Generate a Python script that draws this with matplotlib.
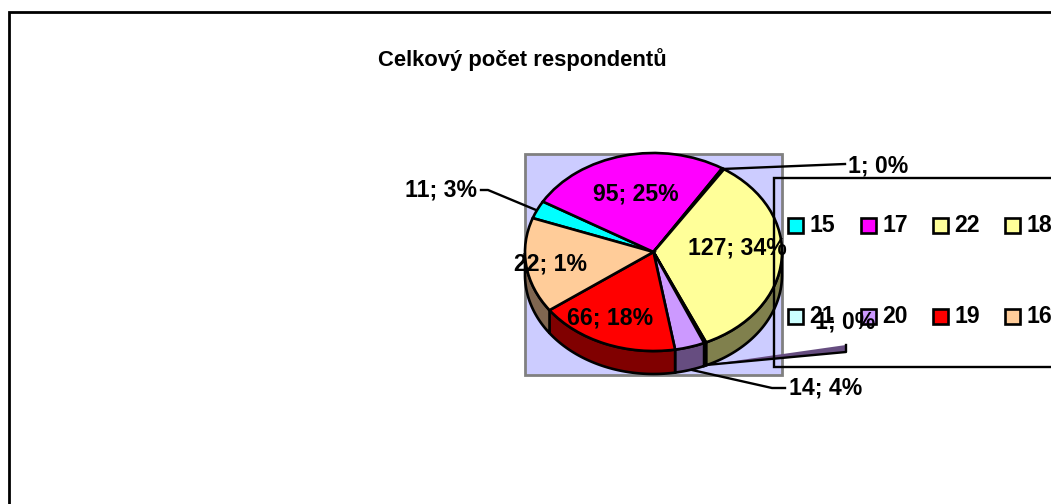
import numpy as np
import matplotlib
matplotlib.use("Agg")
import matplotlib.pyplot as plt
from matplotlib.patches import Rectangle, Polygon

plt.rcParams['font.family'] = ['Liberation Sans', 'DejaVu Sans']

# slices in drawing order, clockwise
categories = ['15', '17', '22', '18', '21', '20', '19', '16']
values = [11, 95, 1, 127, 1, 14, 66, 58]
colors = ['#00FFFF', '#FF00FF', '#FFFF99', '#FFFF99', '#CCFFFF', '#CC99FF', '#FF0000', '#FFCC99']
wall_colors = ['#008080', '#800080', '#80804D', '#80804D', '#668080', '#664D80', '#800000', '#806650']
title = 'Celkový počet respondentů'

W, H = 1051, 504
fig = plt.figure(figsize=(W / 100, H / 100), dpi=100)

# pixel coordinate axes, background
bg = fig.add_axes([0, 0, 1, 1], zorder=1)
bg.set_xlim(0, W)
bg.set_ylim(H, 0)
bg.axis('off')
bg.add_patch(Rectangle((525, 154), 257, 221, fc='#CCCCFF', ec='#808080', lw=2))

# pie axes, stretched to an ellipse
cx, cy, a, b = 653.5, 252, 128.5, 99
depth = 23 / b
pie_ax = fig.add_axes([(cx - a) / W, 1 - (cy + b) / H, 2 * a / W, 2 * b / H], zorder=2)
start = 160

# side wall of the pie, front half only
fracs = np.array(values) / sum(values) * 360
ends = start - np.cumsum(fracs)
starts = ends + fracs
for th1, th2, c in zip(starts, ends, wall_colors):
    t = np.radians(np.linspace(th1, th2, 80)) % (2 * np.pi)
    t = t[t >= np.pi]
    if len(t) < 2:
        continue
    xs = np.cos(t)
    ys = np.sin(t)
    pts = np.column_stack([np.r_[xs, xs[::-1]], np.r_[ys, ys[::-1] - depth]])
    pie_ax.add_patch(Polygon(pts, fc=c, ec='black', lw=1.9, clip_on=False, zorder=0))

wedges, _ = pie_ax.pie(values, colors=colors, startangle=start, counterclock=False,
                       wedgeprops={'edgecolor': 'black', 'linewidth': 1.9, 'clip_on': False})
for w in wedges:
    w.set_zorder(1)
pie_ax.set_aspect('auto')
pie_ax.set_xlim(-1, 1)
pie_ax.set_ylim(-1, 1)
pie_ax.axis('off')

# overlay for frames, legend and labels
top = fig.add_axes([0, 0, 1, 1], zorder=3)
top.set_xlim(0, W)
top.set_ylim(H, 0)
top.axis('off')
top.patch.set_alpha(0)

top.plot([9, 9, W + 5], [H + 5, 12, 12], color='black', lw=2, solid_joinstyle='miter')
top.plot([W + 5, 773.5, 773.5, W + 5], [178, 178, 367, 367], color='black', lw=1.7, solid_joinstyle='miter')

top.text(522, 60, title, ha='center', va='center', fontsize=15.8, fontweight='bold', color='black')

# legend, two rows of four
leg_x = [788, 861, 933, 1005]
leg_y = [225, 316]
for i, (name, c) in enumerate(zip(categories, colors)):
    x = leg_x[i % 4]
    y = leg_y[i // 4]
    top.add_patch(Rectangle((x, y - 7.5), 15, 15, fc=c, ec='black', lw=1.9))
    top.text(x + 21.5, y + 0.5, name, ha='left', va='center', fontsize=16.6, fontweight='bold')

# leader lines
top.plot([722, 845], [169, 164], color='black', lw=1.7)
top.plot([536, 488, 481], [210, 190, 190], color='black', lw=1.7)
top.plot([692, 772, 785], [370, 388, 388], color='black', lw=1.7)
top.add_patch(Polygon([(706, 365), (846, 345), (846, 352)], fc='#664D80', ec='none'))
top.plot([706, 846, 846], [365, 352, 345], color='black', lw=1.7)

# data labels, as printed on the chart
label_text = ['1; 0%', '11; 3%', '95; 25%', '127; 34%', '22; 1%', '66; 18%', '14; 4%', '1; 0%']
label_x = [878, 441, 636, 737, 551, 610, 826, 845]
label_y = [166, 190, 193, 247, 264, 318, 388, 322]
for s, x, y in zip(label_text, label_x, label_y):
    top.text(x, y + 0.5, s, ha='center', va='center', fontsize=16.6, fontweight='bold', color='black')

fig.savefig('out.png', dpi=100, facecolor='white')
